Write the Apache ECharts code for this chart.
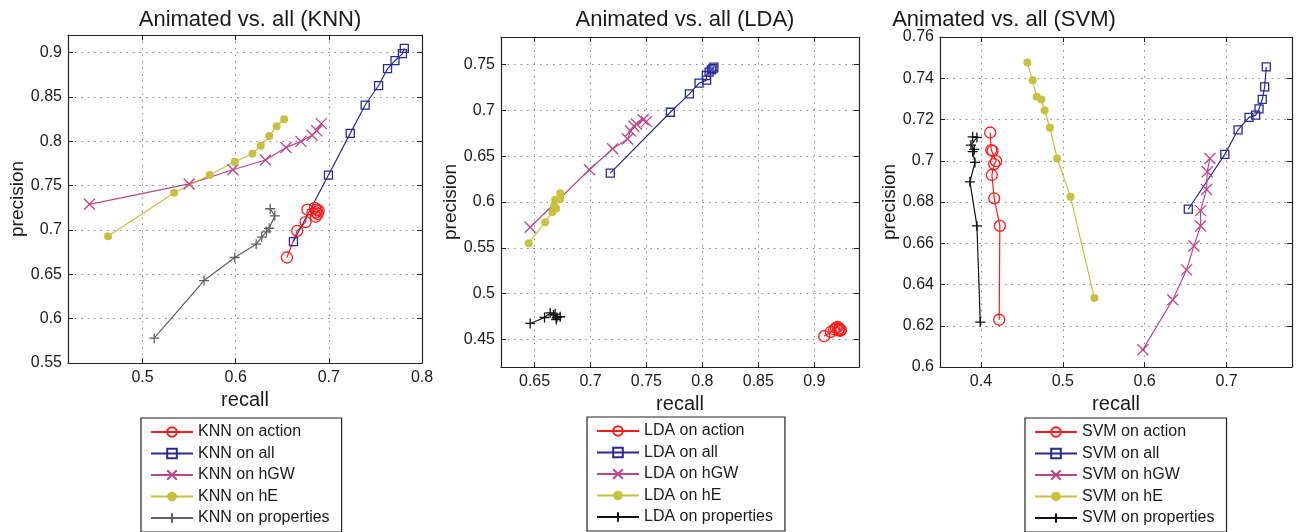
<!DOCTYPE html>
<html><head><meta charset="utf-8">
<script src="https://cdn.jsdelivr.net/npm/echarts@6/dist/echarts.min.js"></script>
<style>html,body{margin:0;padding:0;background:#fff}#c{width:1305px;height:532px}</style>
</head><body><div id="c"></div>
<script>
// ---------- text ----------
const titles = ['Animated vs. all (KNN)', 'Animated vs. all (LDA)', 'Animated vs. all (SVM)'];
const classifiers = ['KNN', 'LDA', 'SVM'];
const featureSets = ['action', 'all', 'hGW', 'hE', 'properties'];
const xName = 'recall';
const yName = 'precision';

// ---------- data: [recall, precision] ----------
const knnAction = [[0.655,0.669],[0.666,0.699],[0.675,0.709],[0.677,0.723],[0.685,0.725],[0.687,0.723],[0.689,0.722],[0.686,0.720],[0.688,0.718],[0.686,0.715]];
const knnAll = [[0.662,0.687],[0.6996,0.762],[0.723,0.809],[0.739,0.841],[0.7534,0.863],[0.763,0.882],[0.771,0.891],[0.779,0.899],[0.781,0.905]];
const knnHGW = [[0.443,0.729],[0.550,0.752],[0.597,0.768],[0.632,0.779],[0.654,0.793],[0.670,0.800],[0.682,0.807],[0.687,0.812],[0.692,0.820]];
const knnHE = [[0.463,0.693],[0.534,0.742],[0.572,0.762],[0.599,0.777],[0.618,0.786],[0.627,0.795],[0.636,0.806],[0.644,0.817],[0.652,0.825]];
const knnProps = [[0.5125,0.578],[0.566,0.643],[0.599,0.669],[0.622,0.684],[0.628,0.692],[0.633,0.698],[0.636,0.702],[0.642,0.716],[0.637,0.724]];

const ldaAction = [[0.9089,0.4536],[0.9148,0.4584],[0.9178,0.4609],[0.9193,0.4627],[0.9208,0.4638],[0.9223,0.4620],[0.9229,0.4594],[0.9217,0.4605],[0.9238,0.4602]];
const ldaAll = [[0.7177,0.6315],[0.7714,0.6979],[0.7884,0.7179],[0.797,0.7296],[0.8038,0.7329],[0.8035,0.738],[0.806,0.7416],[0.808,0.7442],[0.8094,0.7456],[0.8103,0.7471]];
const ldaHGW = [[0.6461,0.5725],[0.699,0.6352],[0.7198,0.6581],[0.7331,0.6687],[0.7358,0.6775],[0.7388,0.6826],[0.7411,0.6851],[0.7471,0.6898],[0.750,0.6877]];
const ldaHE = [[0.6447,0.555],[0.6595,0.578],[0.666,0.589],[0.6693,0.593],[0.6675,0.596],[0.6684,0.6024],[0.6729,0.6034],[0.6729,0.6096]];
const ldaProps = [[0.6461,0.4675],[0.6589,0.474],[0.664,0.4791],[0.6669,0.4766],[0.6684,0.4777],[0.6699,0.474],[0.6729,0.4748],[0.6693,0.4718]];

const svmAction = [[0.4113,0.7137],[0.4126,0.7052],[0.4142,0.7048],[0.4186,0.6998],[0.4162,0.6984],[0.4134,0.6931],[0.4162,0.6818],[0.4231,0.6684],[0.4223,0.6229]];
const svmAll = [[0.6533,0.6765],[0.6979,0.7031],[0.7141,0.715],[0.7275,0.721],[0.7356,0.7221],[0.7397,0.7252],[0.7437,0.7298],[0.7466,0.7358],[0.7486,0.7455]];
const svmHGW = [[0.5978,0.6084],[0.6343,0.6326],[0.6513,0.6471],[0.6602,0.6587],[0.6683,0.6684],[0.6683,0.6758],[0.6756,0.6861],[0.6765,0.6947],[0.6797,0.7011]];
const svmHE = [[0.4567,0.7476],[0.4632,0.739],[0.4681,0.731],[0.4738,0.7297],[0.4778,0.7245],[0.4843,0.716],[0.4932,0.7011],[0.5094,0.6826],[0.5386,0.6334]];
const svmProps = [[0.3899,0.7116],[0.3951,0.7113],[0.3878,0.7076],[0.3919,0.7055],[0.3899,0.7044],[0.3927,0.6992],[0.3866,0.6898],[0.3951,0.6684],[0.3992,0.6218]];

const panelData = [
  [knnAction, knnAll, knnHGW, knnHE, knnProps],
  [ldaAction, ldaAll, ldaHGW, ldaHE, ldaProps],
  [svmAction, svmAll, svmHGW, svmHE, svmProps]
];

// ---------- axes ----------
const xRanges = [[0.42, 0.8], [0.62, 0.94], [0.35, 0.78]];
const yRanges = [[0.55, 0.92], [0.42, 0.78], [0.6, 0.76]];
const xTicks = [[0.5, 0.6, 0.7, 0.8], [0.65, 0.7, 0.75, 0.8, 0.85, 0.9], [0.4, 0.5, 0.6, 0.7]];
const yTicks = [[0.55, 0.6, 0.65, 0.7, 0.75, 0.8, 0.85, 0.9], [0.45, 0.5, 0.55, 0.6, 0.65, 0.7, 0.75], [0.6, 0.62, 0.64, 0.66, 0.68, 0.7, 0.72, 0.74, 0.76]];

// ---------- layout / style ----------
const FONT = 'Liberation Sans, Arial, Helvetica, sans-serif';
const TXT = '#1a1a1a';
const grids = [
  {left: 68, top: 35, width: 354, height: 328},
  {left: 501, top: 37, width: 358, height: 330},
  {left: 940, top: 37, width: 352, height: 330}
];
const titleCenters = [245, 680, 999];
const yNameGaps = [41, 30, 41];
const legendPos = [{left: 141, top: 418}, {left: 587, top: 417}, {left: 1025, top: 418}];
const propColors = ['#606060', '#111111', '#111111'];
const seriesStyle = [
  {color: '#ff1a1a', symbol: 'circle', size: 11, hollow: true},
  {color: '#2a2a96', symbol: 'rect', size: 8, hollow: true},
  {color: '#c0468a', symbol: 'path://M0,0L10,10M10,0L0,10', size: 11, stroke: true},
  {color: '#c9bf40', symbol: 'circle', size: 8},
  {color: null, symbol: 'path://M5,0L5,10M0,5L10,5', size: 10, stroke: true}
];
const fmt = v => String(+(+v).toFixed(2));

const xAxis = [], yAxis = [], series = [], legend = [], title = [];
for (let p = 0; p < 3; p++) {
  const common = (ticks, range) => ({
    type: 'value', min: range[0], max: range[1], gridIndex: p,
    axisLine: {show: true, onZero: false, lineStyle: {color: '#222', width: 1.2}},
    axisTick: {show: true, inside: true, length: 5, customValues: ticks, lineStyle: {color: '#222'}},
  });
  xAxis.push(Object.assign(common(xTicks[p], xRanges[p]), {
    position: 'bottom', name: xName, nameLocation: 'middle', nameGap: 25,
    nameTextStyle: {fontSize: 20, color: TXT, fontFamily: FONT},
    axisLabel: {customValues: xTicks[p], formatter: fmt, fontSize: 16, color: TXT, fontFamily: FONT, margin: 7},
    splitLine: {show: true, lineStyle: {color: '#8a8a8a', type: [1.5, 5], width: 1}}
  }));
  yAxis.push(Object.assign(common(yTicks[p], yRanges[p]), {
    position: 'left', name: yName, nameLocation: 'middle', nameGap: yNameGaps[p],
    nameTextStyle: {fontSize: 19, color: TXT, fontFamily: FONT},
    axisLabel: {customValues: yTicks[p], formatter: fmt, fontSize: 16, color: TXT, fontFamily: FONT, margin: 6},
    splitLine: {show: true, lineStyle: {color: '#8a8a8a', type: [1.5, 5], width: 1}}
  }));
  title.push({
    text: titles[p], left: titleCenters[p], top: 4, textAlign: 'center',
    textStyle: {fontSize: 22, fontWeight: 'normal', color: TXT, fontFamily: FONT}
  });
  const names = [];
  for (let s = 0; s < 5; s++) {
    const st = seriesStyle[s];
    const color = st.color || propColors[p];
    const name = classifiers[p] + ' on ' + featureSets[s];
    names.push(name);
    let itemStyle;
    if (st.hollow) itemStyle = {color: 'rgba(0,0,0,0)', borderColor: color, borderWidth: 1.3};
    else if (st.stroke) itemStyle = {color: color, borderColor: color, borderWidth: 1.3};
    else itemStyle = {color: color, borderWidth: 0};
    series.push({
      type: 'line', name: name, data: panelData[p][s], xAxisIndex: p, yAxisIndex: p,
      symbol: st.symbol, symbolSize: st.size, showAllSymbol: true,
      lineStyle: {color: color, width: 1.2}, itemStyle: itemStyle,
      emphasis: {disabled: true}, animation: false
    });
  }
  legend.push({
    data: names, orient: 'vertical', left: legendPos[p].left, top: legendPos[p].top,
    width: 260, height: 200,
    itemWidth: 42, itemHeight: 12, itemGap: 5.5, padding: [6, 12, 6, 9],
    borderColor: '#222', borderWidth: 1.2, backgroundColor: '#fff',
    textStyle: {fontSize: 16, color: TXT, fontFamily: FONT},
    selectedMode: false
  });
}
// secondary axes for the MATLAB-style box with inward ticks
for (let p = 0; p < 3; p++) {
  xAxis.push({type: 'value', gridIndex: p, position: 'top', min: xRanges[p][0], max: xRanges[p][1],
    axisLine: {show: true, onZero: false, lineStyle: {color: '#222', width: 1.2}},
    axisTick: {show: true, inside: true, length: 5, customValues: xTicks[p], lineStyle: {color: '#222'}},
    axisLabel: {show: false}, splitLine: {show: false}});
  yAxis.push({type: 'value', gridIndex: p, position: 'right', min: yRanges[p][0], max: yRanges[p][1],
    axisLine: {show: true, onZero: false, lineStyle: {color: '#222', width: 1.2}},
    axisTick: {show: true, inside: true, length: 5, customValues: yTicks[p], lineStyle: {color: '#222'}},
    axisLabel: {show: false}, splitLine: {show: false}});
}

const chart = echarts.init(document.getElementById('c'), null, {renderer: 'canvas'});
chart.setOption({
  backgroundColor: '#fff', animation: false,
  title: title, grid: grids, xAxis: xAxis, yAxis: yAxis, legend: legend, series: series
});
</script></body></html>
